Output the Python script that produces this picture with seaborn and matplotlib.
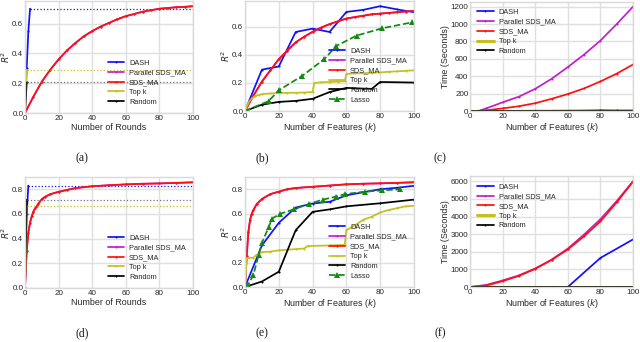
import matplotlib
matplotlib.use("Agg")
import matplotlib.pyplot as plt
import seaborn as sns

# ---------------- data ----------------
# (a) R^2 vs number of rounds, dataset 1
a_dash_x = [0, 1, 2, 3]
a_dash_y = [0.0, 0.30, 0.55, 0.70]
a_sds_x = [0, 5, 10, 15, 20, 25, 30, 35, 40, 45, 50, 55, 60, 65, 70, 75, 80, 85, 90, 95, 100]
a_sds_y = [0.0, 0.11, 0.21, 0.29, 0.36, 0.42, 0.47, 0.515, 0.55, 0.58, 0.605, 0.63, 0.65,
           0.665, 0.68, 0.69, 0.70, 0.705, 0.71, 0.713, 0.717]
a_topk_x = [0, 1]
a_topk_y = [0.0, 0.29]
a_rand_x = [0, 1]
a_rand_y = [0.0, 0.205]

# (b) R^2 vs number of features, dataset 1
b_dash_x = [0, 10, 20, 30, 40, 50, 60, 70, 80, 90, 100]
b_dash_y = [0.0, 0.295, 0.318, 0.564, 0.588, 0.564, 0.707, 0.722, 0.748, 0.725, 0.705]
b_sds_x = [0, 5, 10, 15, 20, 25, 30, 35, 40, 45, 50, 55, 60, 65, 70, 75, 80, 85, 90, 95, 100]
b_sds_y = [0.0, 0.11, 0.21, 0.29, 0.37, 0.43, 0.49, 0.53, 0.565, 0.595, 0.62, 0.64, 0.66,
           0.67, 0.68, 0.69, 0.695, 0.70, 0.705, 0.71, 0.715]
b_topk_x = [0, 2, 4, 6, 8, 10, 15, 20, 25, 30, 35, 40, 41, 45, 50, 55, 59, 60, 65, 70,
            75, 80, 85, 90, 95, 100]
b_topk_y = [0.0, 0.06, 0.09, 0.105, 0.115, 0.12, 0.125, 0.128, 0.13, 0.13, 0.132, 0.135,
            0.20, 0.205, 0.207, 0.21, 0.212, 0.265, 0.268, 0.27, 0.272, 0.275, 0.28,
            0.283, 0.287, 0.29]
b_rand_x = [0, 10, 20, 30, 40, 50, 60, 70, 75, 80, 100]
b_rand_y = [0.0, 0.045, 0.065, 0.072, 0.087, 0.135, 0.165, 0.16, 0.158, 0.207, 0.203]
b_lasso_x = [0, 14, 20, 34, 47, 54, 66, 81, 99]
b_lasso_y = [0.0, 0.071, 0.148, 0.252, 0.371, 0.464, 0.538, 0.59, 0.633]

# (c) running time, dataset 1
c_x = [0, 5, 10, 20, 30, 40, 50, 60, 70, 80, 90, 100]
c_par_y = [0, 0, 30, 100, 165, 255, 370, 505, 650, 810, 1000, 1200]
c_sds_y = [0, 0, 8, 30, 55, 90, 140, 195, 260, 340, 430, 535]
c_dash_y = [0, 0, 1, 2, 2, 3, 3, 4, 5, 8, 6, 6]
c_topk_y = [0, 0, 0, 0, 0, 0, 0, 0, 0, 0, 0, 0]
c_rand_y = [0, 0, 0, 0, 0, 0, 0, 0, 0, 0, 0, 0]

# (d) R^2 vs number of rounds, dataset 2
d_dash_x = [0, 1, 2]
d_dash_y = [0.0, 0.60, 0.83]
d_sds_x = [0, 1, 2, 3, 4, 5, 6, 7, 8, 10, 12, 15, 20, 25, 30, 40, 50, 60, 70, 80, 90, 100]
d_sds_y = [0.0, 0.30, 0.45, 0.53, 0.58, 0.62, 0.645, 0.665, 0.685, 0.72, 0.74, 0.76,
           0.78, 0.795, 0.81, 0.825, 0.833, 0.84, 0.845, 0.848, 0.852, 0.857]
d_topk_x = [0, 1]
d_topk_y = [0.0, 0.665]
d_rand_x = [0, 1]
d_rand_y = [0.0, 0.715]

# (e) R^2 vs number of features, dataset 2
e_dash_x = [0, 10, 20, 30, 40, 50, 60, 70, 80, 90, 100]
e_dash_y = [0.0, 0.34, 0.525, 0.65, 0.683, 0.697, 0.75, 0.775, 0.80, 0.812, 0.828]
e_sds_x = [0, 1, 2, 3, 4, 5, 7, 10, 15, 20, 25, 30, 40, 50, 60, 70, 80, 90, 100]
e_sds_y = [0.0, 0.25, 0.45, 0.55, 0.60, 0.63, 0.68, 0.72, 0.76, 0.78, 0.80, 0.81, 0.82,
           0.83, 0.84, 0.845, 0.848, 0.852, 0.857]
e_topk_x = [0, 1, 5, 7, 10, 15, 20, 30, 35, 37, 50, 59, 60, 65, 70, 75, 80, 85, 90, 95, 100]
e_topk_y = [0.0, 0.235, 0.24, 0.265, 0.285, 0.29, 0.30, 0.31, 0.315, 0.335, 0.34, 0.345,
            0.465, 0.505, 0.55, 0.575, 0.61, 0.63, 0.645, 0.66, 0.665]
e_rand_x = [0, 10, 20, 30, 40, 50, 60, 80, 100]
e_rand_y = [0.0, 0.045, 0.125, 0.465, 0.615, 0.635, 0.66, 0.685, 0.715]
e_lasso_x = [0, 2, 5, 8, 10, 14, 16, 21, 29, 38, 46, 54, 59, 71, 81, 92]
e_lasso_y = [0.0, 0.02, 0.10, 0.26, 0.36, 0.49, 0.56, 0.60, 0.636, 0.68, 0.715, 0.74,
             0.76, 0.78, 0.79, 0.80]

# (f) running time, dataset 2
f_x = [0, 10, 20, 30, 40, 50, 60, 70, 80, 90, 100]
f_par_y = [0, 120, 370, 660, 1050, 1550, 2180, 2980, 3850, 4880, 6000]
f_sds_y = [0, 80, 330, 630, 1030, 1530, 2130, 2880, 3720, 4800, 5980]
f_dash_x = [60, 80, 100]
f_dash_y = [0, 1650, 2700]
f_topk_y = [0, 0, 0, 0, 0, 0, 0, 0, 0, 0, 0]
f_rand_y = [0, 0, 0, 0, 0, 0, 0, 0, 0, 0, 0]

XMAX = 100
C_DASH = "#1010ff"
C_PAR = "#c020c8"
C_SDS = "#ff1010"
C_TOPK = "#c4c020"
C_RAND = "#000000"
C_LASSO = "#108a10"

# ---------------- style ----------------
sns.set_theme(style="whitegrid")
plt.rcParams.update({
    "font.family": ["Liberation Sans", "DejaVu Sans"],
    "axes.edgecolor": "0.85",
    "grid.color": "0.88",
    "grid.linewidth": 1.0,
    "axes.linewidth": 1.0,
    "text.color": "0.15",
    "axes.labelcolor": "0.15",
    "xtick.color": "0.15",
    "ytick.color": "0.15",
})

W, H = 640, 342
fig = plt.figure(figsize=(W / 100, H / 100), dpi=100)


def make_ax(l, t, r, b):
    return fig.add_axes([l / W, 1 - b / H, (r - l) / W, (b - t) / H])


def line(ax, x, y, color, label=None, lw=1.25, **kw):
    kw.setdefault("marker", ".")
    kw.setdefault("markersize", 3)
    sns.lineplot(x=x, y=y, color=color, label=label, lw=lw, ax=ax,
                 markeredgewidth=0, **kw)


def extend(ax, x, y, color):
    # dotted continuation of a converged run
    sns.lineplot(x=[x[-1], XMAX], y=[y[-1], y[-1]], color=color, lw=0.9,
                 linestyle=":", ax=ax)


def finish(ax, ylim, yticks, xlabel, ylabel, loc, cap, cap_xy):
    ax.set_xlim(0, XMAX)
    ax.set_ylim(*ylim)
    ax.set_xticks([0, 20, 40, 60, 80, 100])
    ax.set_yticks(yticks)
    ax.tick_params(labelsize=5.8, pad=1.2, length=0)
    ax.set_xlabel(xlabel, fontsize=6.4, labelpad=1.0)
    ax.set_ylabel(ylabel, fontsize=6.4, labelpad=0.3)
    ax.legend(loc=loc, frameon=False, fontsize=5.3, handlelength=2.2,
              handletextpad=0.7, labelspacing=0.35, borderaxespad=0.6)
    fig.text(cap_xy[0] / W, 1 - cap_xy[1] / H, cap, ha="center", va="center",
             fontsize=8.5, family=["Liberation Serif", "DejaVu Serif"], color="0.1")


r2_ticks = [0.0, 0.2, 0.4, 0.6]
r2_ticks2 = [0.0, 0.2, 0.4, 0.6, 0.8]

# (a)
ax = make_ax(25, 1, 193, 113)
line(ax, a_dash_x, a_dash_y, C_DASH, "DASH")
extend(ax, a_dash_x, a_dash_y, C_DASH)
line(ax, a_sds_x, a_sds_y, C_PAR, "Parallel SDS_MA")
line(ax, a_sds_x, a_sds_y, C_SDS, "SDS_MA")
line(ax, a_topk_x, a_topk_y, C_TOPK, "Top k")
extend(ax, a_topk_x, a_topk_y, C_TOPK)
line(ax, a_rand_x, a_rand_y, C_RAND, "Random")
extend(ax, a_rand_x, a_rand_y, "0.45")
finish(ax, (0, 0.752), r2_ticks, "Number of Rounds", "$R^2$",
       "lower right", "(a)", (82, 158))

# (b)
ax = make_ax(245, 1, 414, 111)
line(ax, b_dash_x, b_dash_y, C_DASH, "DASH")
line(ax, b_sds_x, b_sds_y, C_PAR, "Parallel SDS_MA")
line(ax, b_sds_x, b_sds_y, C_SDS, "SDS_MA")
line(ax, b_topk_x, b_topk_y, C_TOPK, "Top k")
line(ax, b_rand_x, b_rand_y, C_RAND, "Random")
line(ax, b_lasso_x, b_lasso_y, C_LASSO, "Lasso", linestyle="--", marker="^", markersize=4)
finish(ax, (0, 0.785), r2_ticks, "Number of Features ($k$)", "$R^2$",
       "lower right", "(b)", (262, 158))

# (c)
ax = make_ax(470, 1.5, 633, 111)
line(ax, c_x, c_dash_y, C_DASH, "DASH")
line(ax, c_x, c_par_y, C_PAR, "Parallel SDS_MA")
line(ax, c_x, c_sds_y, C_SDS, "SDS_MA")
line(ax, c_x, c_topk_y, C_TOPK, "Top k", lw=2.2)
line(ax, c_x, c_rand_y, C_RAND, "Random")
finish(ax, (0, 1260), [0, 200, 400, 600, 800, 1000, 1200], "Number of Features ($k$)",
       "Time (Seconds)", "upper left", "(c)", (440, 158))

# (d)
ax = make_ax(25, 177, 193, 288)
line(ax, d_dash_x, d_dash_y, C_DASH, "DASH")
extend(ax, d_dash_x, d_dash_y, C_DASH)
line(ax, d_sds_x, d_sds_y, C_PAR, "Parallel SDS_MA")
line(ax, d_sds_x, d_sds_y, C_SDS, "SDS_MA")
line(ax, d_topk_x, d_topk_y, C_TOPK, "Top k")
extend(ax, d_topk_x, d_topk_y, C_TOPK)
line(ax, d_rand_x, d_rand_y, C_RAND, "Random")
extend(ax, d_rand_x, d_rand_y, "0.45")
finish(ax, (0, 0.90), r2_ticks2, "Number of Rounds", "$R^2$",
       "lower right", "(d)", (82, 333))

# (e)
ax = make_ax(245, 177, 414, 287)
line(ax, e_dash_x, e_dash_y, C_DASH, "DASH")
line(ax, e_sds_x, e_sds_y, C_PAR, "Parallel SDS_MA")
line(ax, e_sds_x, e_sds_y, C_SDS, "SDS_MA")
line(ax, e_topk_x, e_topk_y, C_TOPK, "Top k")
line(ax, e_rand_x, e_rand_y, C_RAND, "Random")
line(ax, e_lasso_x, e_lasso_y, C_LASSO, "Lasso", linestyle="--", marker="^", markersize=4)
finish(ax, (0, 0.90), r2_ticks2, "Number of Features ($k$)", "$R^2$",
       "lower right", "(e)", (262, 333))

# (f)
ax = make_ax(470, 176, 633, 287)
line(ax, f_dash_x, f_dash_y, C_DASH, "DASH")
line(ax, f_x, f_par_y, C_PAR, "Parallel SDS_MA")
line(ax, f_x, f_sds_y, C_SDS, "SDS_MA")
line(ax, f_x, f_topk_y, C_TOPK, "Top k", lw=2.2)
line(ax, f_x, f_rand_y, C_RAND, "Random")
finish(ax, (0, 6300), [0, 1000, 2000, 3000, 4000, 5000, 6000], "Number of Features ($k$)",
       "Time (Seconds)", "upper left", "(f)", (440, 333))

fig.savefig("out.png", dpi=100)
